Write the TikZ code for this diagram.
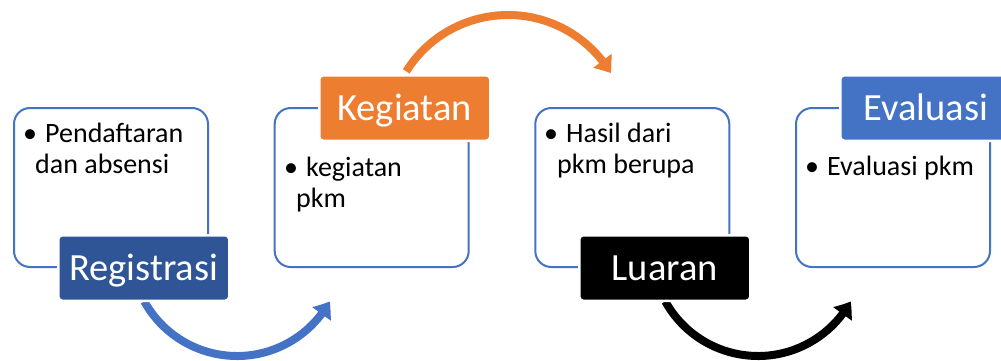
\documentclass[tikz,border=0pt]{standalone}
\usepackage{fontspec}
\setmainfont{Carlito}
\usetikzlibrary{arrows.meta,calc,bending}
\definecolor{boxblue}{HTML}{4472C4}
\definecolor{darkblue}{HTML}{2F5597}
\definecolor{orng}{HTML}{ED7D31}
\newcommand{\bulletmark}{\makebox[22pt][l]{\textbullet}}
\tikzset{
  panel/.style={draw=boxblue, line width=2pt, fill=white, rounded corners=16pt,
    minimum width=194pt, minimum height=159pt, anchor=south west, inner sep=0pt},
  tag/.style={draw=white, line width=2.5pt, rounded corners=4pt, minimum width=171pt,
    inner sep=0pt, text height=45pt, text depth=20.5pt, text=white,
    font=\fontsize{38.5}{40}\selectfont, anchor=south west},
  bodytext/.style={anchor=base west, inner sep=0pt, font=\fontsize{28}{31}\selectfont},
  curvearrow/.style={line width=8pt, -{Triangle[length=15pt,width=22pt,bend]}},
}
\begin{document}
\begin{tikzpicture}[x=1pt,y=1pt]
\useasboundingbox (0,0) rectangle (1001,360);
\clip (0,0) rectangle (1001,360);
\fill[white] (0,0) rectangle (1001,360);

% curved arrows
\coordinate (c1) at (237,110);
\coordinate (c2) at (508,225);
\coordinate (c3) at (758,110);
\draw[curvearrow, boxblue] ([shift={(209:106)}]c1) arc[start angle=209, end angle=331, radius=106];
\draw[curvearrow, orng] ([shift={(148:120)}]c2) arc[start angle=148, end angle=31, radius=120];
\draw[curvearrow, black] ([shift={(209:106)}]c3) arc[start angle=209, end angle=331, radius=106];

% panels
\node[panel] (p1) at (13,92) {};
\node[panel] (p2) at (273.7,92) {};
\node[panel] (p3) at (534.3,92) {};
\node[panel] (p4) at (795,92) {};

% tags
\node[tag, fill=darkblue] (t1) at (57,58) {Registrasi};
\node[tag, fill=orng] (t2) at (318,218) {Kegiatan};
\node[tag, fill=black] (t3) at (578,58) {Luaran};
\node[tag, fill=boxblue] (t4) at (839,218) {Evaluasi};

% body text
\node[bodytext] (b1a) at (23,218) {\bulletmark Pendaftaran};
\node[bodytext] (b1b) at (35,187) {dan absensi};
\node[bodytext] (b2a) at (284,184) {\bulletmark kegiatan};
\node[bodytext] (b2b) at (296,153) {pkm};
\node[bodytext] (b3a) at (544,218) {\bulletmark Hasil dari};
\node[bodytext] (b3b) at (557,187) {pkm berupa};
\node[bodytext] (b4a) at (805,185) {\bulletmark Evaluasi pkm};
\end{tikzpicture}
\end{document}
